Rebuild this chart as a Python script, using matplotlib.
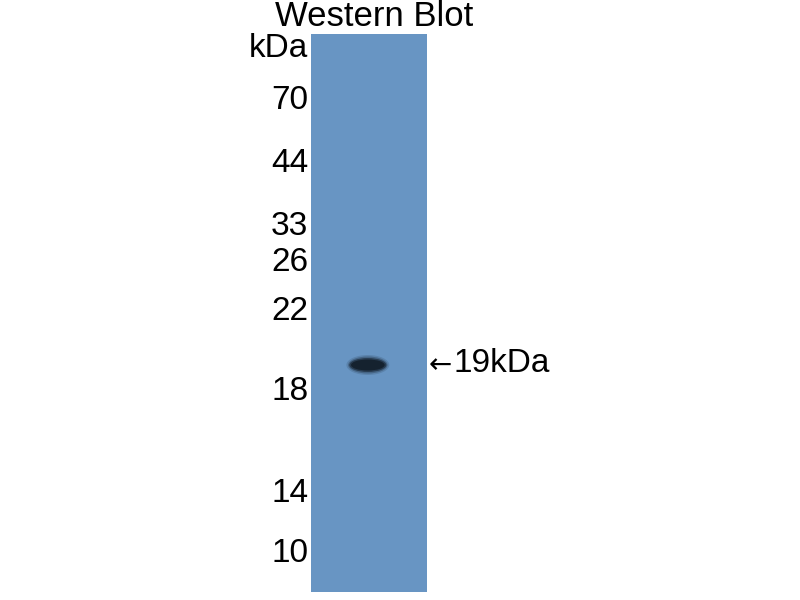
import numpy as np
import matplotlib.pyplot as plt
from matplotlib.patches import Ellipse

plt.rcParams['font.family'] = ['Liberation Sans', 'DejaVu Sans']

# marker ladder: label and migration distance (px from top of lane)
marker_labels = ["kDa", "70", "44", "33", "26", "22", "18", "14", "10"]
marker_dist = [11, 63, 126, 189, 225, 274, 354, 456, 516]

# detected band
band_label = "19kDa"
band_dist = 331
band_lane_x = 0.49

lane_len = 558
lane_color = "#6895c3"
band_color = "#15222f"

fig = plt.figure(figsize=(8, 6), dpi=100)
ax = fig.add_axes([311 / 800, 1 - 592 / 600, 116 / 800, 558 / 600])
ax.set_facecolor(lane_color)
ax.set_xlim(0, 1)
ax.set_ylim(lane_len, 0)

# soft band: stacked ellipses for blur
for w, h, a in [(0.37, 20, 0.15), (0.34, 17, 0.3), (0.32, 14, 0.6), (0.29, 11, 1.0)]:
    ax.add_patch(Ellipse((band_lane_x, band_dist), w, h, color=band_color, alpha=a, lw=0))

ax.set_yticks(marker_dist)
ax.set_yticklabels(marker_labels, fontsize=24)
ax.tick_params(axis='y', length=0, pad=2)
ax.set_xticks([])
for s in ax.spines.values():
    s.set_visible(False)

# arrow in DejaVu (longer glyph), label in Liberation
arr = ax.annotate("\u2190", xy=(1.0, band_dist), xycoords=('axes fraction', 'data'),
                  xytext=(1, 0), textcoords='offset points', ha='left', va='center',
                  fontsize=20, family='DejaVu Sans')
ax.annotate(band_label, xy=(1.0, band_dist), xycoords=('axes fraction', 'data'),
            xytext=(19, 1), textcoords='offset points', ha='left', va='center', fontsize=24)

fig.text(374 / 800, 1 - 16 / 600, "Western Blot", ha='center', va='center', fontsize=25)

fig.savefig("out.png", dpi=100)
